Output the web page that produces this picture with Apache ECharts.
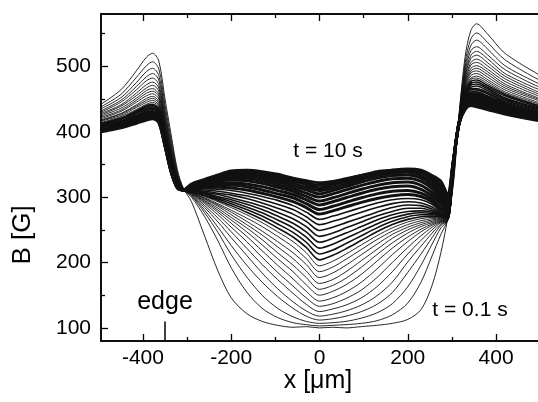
<!DOCTYPE html>
<html>
<head>
<meta charset="utf-8">
<script src="https://cdn.jsdelivr.net/npm/echarts@6/dist/echarts.min.js"></script>
<style>
html,body{margin:0;padding:0;background:#fff;}
#chart{width:538px;height:402px;}
</style>
</head>
<body>
<div id="chart"></div>
<script>
// x positions (µm) of the sampled points of every profile
const xLeft  = [-495, -450, -415, -392, -378, -364, -350, -336, -322, -308];
const xMid   = [-290, -260, -230, -200, -165, -130, -95, -60, -30, 0, 30, 60, 95, 130, 165, 200, 230, 255, 275];
const xRight = [290, 303, 316, 330, 343, 356, 380, 420, 495];

// B [G] profiles, from t = 0.1 s (first row) to t = 10 s (last row)
const leftEdge = [
  [442, 464, 493, 514, 520, 508, 450, 395, 342, 313],
  [438, 457, 483, 501, 507, 496, 441, 388, 338, 312],
  [435, 452, 475, 492, 497, 486, 433, 382, 336, 312],
  [432, 448, 469, 484, 489, 479, 428, 377, 333, 312],
  [430, 445, 464, 478, 482, 472, 423, 373, 331, 312],
  [428, 441, 459, 472, 476, 467, 418, 370, 330, 312],
  [426, 439, 455, 467, 471, 462, 415, 367, 328, 312],
  [424, 436, 451, 463, 466, 457, 411, 364, 327, 312],
  [422, 433, 448, 459, 462, 454, 408, 362, 326, 312],
  [420, 431, 445, 455, 458, 450, 405, 360, 325, 312],
  [418, 428, 441, 451, 454, 446, 402, 357, 324, 312],
  [417, 427, 439, 448, 451, 443, 400, 356, 323, 312],
  [416, 425, 437, 445, 448, 440, 398, 354, 322, 312],
  [414, 423, 434, 442, 445, 438, 396, 352, 321, 311],
  [413, 421, 432, 440, 442, 435, 394, 350, 320, 311],
  [412, 420, 430, 438, 440, 433, 392, 349, 320, 311],
  [411, 419, 429, 436, 438, 431, 391, 348, 319, 311],
  [410, 417, 427, 434, 436, 429, 390, 347, 318, 311],
  [409, 416, 425, 432, 434, 427, 388, 346, 318, 311],
  [408, 415, 424, 430, 432, 425, 387, 345, 317, 311],
  [407, 414, 423, 429, 431, 424, 386, 344, 317, 311],
  [406, 413, 422, 428, 430, 423, 385, 344, 317, 311],
  [405, 412, 421, 427, 429, 422, 384, 343, 317, 311],
  [404, 411, 420, 426, 428, 421, 384, 343, 316, 311],
  [404, 410, 419, 425, 427, 420, 383, 342, 316, 311],
  [403, 409, 418, 424, 426, 420, 382, 341, 316, 311],
  [403, 409, 417, 423, 425, 419, 382, 341, 315, 311],
  [402, 408, 416, 422, 424, 418, 381, 340, 315, 311],
  [402, 408, 416, 421, 423, 417, 380, 340, 315, 311],
  [401, 407, 415, 420, 422, 416, 379, 339, 315, 311],
  [401, 407, 414, 419, 421, 415, 379, 339, 314, 311],
  [400, 406, 413, 418, 420, 414, 378, 338, 314, 311]
];
const middle = [
  [293, 240, 187, 146, 122, 110, 104, 101, 102, 100, 101, 100, 102, 104, 107, 113, 128, 165, 215],
  [300, 270, 233, 192, 155, 130, 116, 108, 105, 103, 104, 105, 107, 111, 120, 138, 170, 210, 243],
  [302, 276, 246, 212, 178, 150, 130, 117, 110, 107, 108, 110, 115, 123, 137, 163, 196, 228, 253],
  [303, 280, 254, 226, 196, 170, 148, 130, 118, 112, 114, 118, 125, 136, 154, 185, 213, 238, 257],
  [304, 284, 262, 238, 211, 184, 160, 140, 126, 118, 121, 126, 135, 149, 170, 201, 225, 245, 259],
  [305, 287, 268, 247, 222, 197, 174, 153, 136, 125, 129, 135, 146, 163, 186, 213, 234, 250, 261],
  [306, 290, 273, 254, 232, 208, 185, 164, 146, 133, 137, 145, 158, 177, 200, 223, 241, 254, 262],
  [306, 292, 277, 260, 240, 218, 196, 175, 156, 141, 146, 155, 170, 190, 212, 232, 247, 257, 263],
  [307, 294, 280, 265, 247, 227, 206, 186, 166, 150, 156, 166, 182, 202, 222, 239, 251, 259, 264],
  [307, 295, 283, 269, 253, 235, 215, 196, 177, 159, 165, 176, 193, 212, 230, 245, 255, 261, 265],
  [308, 297, 286, 273, 258, 242, 224, 206, 187, 168, 174, 186, 203, 220, 237, 250, 258, 263, 266],
  [308, 298, 288, 277, 263, 248, 232, 215, 197, 177, 184, 196, 212, 228, 243, 254, 261, 265, 267],
  [308, 299, 290, 280, 268, 255, 240, 224, 206, 186, 193, 205, 220, 235, 248, 258, 264, 267, 268],
  [309, 301, 293, 284, 273, 261, 247, 232, 215, 195, 202, 213, 227, 241, 253, 262, 267, 269, 269],
  [309, 302, 295, 287, 277, 266, 253, 239, 223, 204, 211, 221, 234, 247, 258, 266, 270, 271, 270],
  [309, 303, 297, 290, 281, 271, 259, 246, 231, 213, 219, 229, 241, 253, 263, 270, 273, 273, 271],
  [310, 305, 299, 293, 285, 276, 265, 253, 239, 222, 228, 237, 248, 259, 268, 274, 276, 275, 272],
  [310, 306, 301, 296, 289, 281, 271, 260, 247, 231, 237, 245, 255, 265, 273, 278, 279, 277, 273],
  [311, 307, 304, 299, 293, 286, 277, 267, 255, 240, 245, 253, 262, 271, 278, 283, 283, 279, 274],
  [311, 309, 306, 303, 298, 291, 283, 274, 263, 249, 254, 261, 269, 277, 284, 288, 287, 282, 275],
  [312, 311, 309, 306, 302, 296, 289, 281, 270, 258, 263, 269, 277, 284, 290, 293, 291, 285, 277],
  [313, 313, 312, 310, 306, 301, 295, 287, 277, 266, 271, 277, 284, 291, 296, 298, 296, 289, 279],
  [314, 315, 315, 314, 311, 306, 300, 293, 284, 274, 279, 285, 292, 298, 302, 304, 301, 293, 281],
  [315, 317, 318, 318, 316, 311, 305, 299, 290, 281, 286, 292, 299, 305, 309, 310, 306, 297, 284],
  [316, 319, 321, 322, 320, 316, 310, 304, 296, 288, 293, 299, 306, 312, 316, 317, 312, 302, 290],
  [316, 321, 324, 326, 325, 321, 315, 309, 301, 294, 299, 305, 312, 318, 322, 323, 318, 307, 294],
  [317, 322, 327, 329, 329, 325, 319, 313, 306, 300, 305, 311, 318, 324, 328, 329, 324, 313, 298],
  [317, 323, 329, 332, 332, 329, 323, 317, 311, 305, 310, 316, 323, 329, 333, 334, 329, 318, 302],
  [318, 324, 330, 335, 335, 332, 327, 321, 315, 310, 314, 320, 327, 333, 337, 338, 333, 323, 307],
  [318, 325, 331, 337, 338, 335, 330, 325, 319, 314, 318, 324, 330, 336, 339, 340, 337, 327, 312],
  [319, 326, 332, 339, 340, 337, 333, 328, 322, 318, 321, 327, 333, 339, 341, 342, 339, 330, 318],
  [320, 327, 334, 340, 341, 339, 335, 329, 325, 322, 324, 328, 333, 337, 341, 343, 341, 333, 324]
];
const rightEdge = [
  [266, 318, 425, 515, 555, 565, 550, 520, 488],
  [265, 322, 424, 506, 542, 551, 537, 510, 480],
  [264, 325, 422, 499, 532, 540, 527, 501, 474],
  [264, 328, 421, 493, 524, 530, 518, 495, 469],
  [264, 330, 421, 488, 517, 523, 512, 489, 465],
  [264, 332, 420, 485, 512, 517, 506, 485, 461],
  [264, 334, 419, 481, 506, 511, 501, 481, 458],
  [264, 335, 419, 477, 502, 506, 496, 477, 455],
  [265, 337, 418, 474, 497, 501, 492, 473, 452],
  [265, 338, 418, 472, 493, 497, 488, 470, 450],
  [265, 339, 418, 469, 490, 493, 484, 467, 448],
  [266, 340, 417, 466, 486, 489, 480, 464, 445],
  [266, 341, 417, 464, 482, 485, 477, 461, 443],
  [267, 342, 416, 462, 480, 482, 474, 459, 441],
  [267, 343, 416, 460, 477, 479, 471, 457, 440],
  [268, 344, 416, 458, 474, 476, 468, 455, 438],
  [268, 345, 415, 456, 471, 473, 466, 452, 436],
  [269, 346, 415, 454, 468, 470, 463, 450, 435],
  [270, 347, 415, 452, 466, 466, 460, 448, 433],
  [271, 347, 415, 451, 464, 464, 458, 446, 432],
  [272, 348, 414, 449, 461, 461, 455, 444, 430],
  [273, 349, 414, 448, 459, 459, 453, 443, 429],
  [275, 349, 414, 446, 457, 457, 452, 441, 428],
  [277, 350, 414, 445, 456, 455, 450, 440, 427],
  [280, 351, 414, 444, 454, 453, 448, 438, 426],
  [283, 351, 413, 442, 452, 451, 446, 437, 424],
  [286, 352, 413, 441, 450, 449, 444, 435, 423],
  [289, 352, 413, 440, 448, 447, 442, 434, 422],
  [292, 353, 413, 439, 446, 445, 440, 432, 421],
  [296, 354, 413, 437, 445, 443, 439, 431, 420],
  [300, 354, 412, 436, 443, 441, 437, 429, 419],
  [304, 355, 412, 434, 440, 438, 434, 427, 417]
];

// axis ticks / labels
const xMajorTicks = [-400, -200, 0, 200, 400];
const xMinorTicks = [-300, -100, 100, 300];
const yMajorTicks = [100, 200, 300, 400, 500];
const yMinorTicks = [150, 250, 350, 450, 550];

// "edge" marker
const edgeX = -350;
const edgeFrom = 110;
const edgeTo = 81;

const FONT = "'Liberation Sans', Arial, Helvetica, sans-serif";
const X_ALL = xLeft.concat(xMid, xRight);

const series = leftEdge.map(function (row, k) {
  const ys = row.concat(middle[k], rightEdge[k]);
  const w = k < 14 ? 0.9 : (k < 22 ? 1.6 : 3.0);
  return {
    type: 'line',
    xAxisIndex: 0,
    yAxisIndex: 0,
    data: X_ALL.map(function (x, i) { return [x, ys[i]]; }),
    showSymbol: false,
    symbol: 'none',
    smooth: 0.3,
    lineStyle: { color: '#111', width: w },
    silent: true,
    z: 2
  };
});
series.push({
  type: 'line',
  xAxisIndex: 0,
  yAxisIndex: 0,
  data: [],
  silent: true,
  markLine: {
    silent: true,
    symbol: ['none', 'arrow'],
    symbolSize: [0, 5],
    label: { show: false },
    lineStyle: { color: '#000', width: 1.5, type: 'solid' },
    data: [[{ coord: [edgeX, edgeFrom] }, { coord: [edgeX, edgeTo] }]]
  }
});

function xAxisDef(pos, ticks, len, labels) {
  return {
    type: 'value', position: pos, min: -495, max: 495,
    axisLine: { show: true, onZero: false, lineStyle: { color: '#000', width: 1.5 } },
    axisTick: { show: true, inside: true, length: len, customValues: ticks, lineStyle: { color: '#000', width: 1.3 } },
    axisLabel: labels ? { show: true, customValues: xMajorTicks, margin: 7, color: '#000', fontSize: 21, fontFamily: FONT } : { show: false },
    splitLine: { show: false }
  };
}
function yAxisDef(ticks, len, labels) {
  return {
    type: 'value', position: 'left', min: 80, max: 580,
    axisLine: { show: true, onZero: false, lineStyle: { color: '#000', width: 1.5 } },
    axisTick: { show: true, inside: true, length: len, customValues: ticks, lineStyle: { color: '#000', width: 1.3 } },
    axisLabel: labels ? { show: true, customValues: yMajorTicks, margin: 10, color: '#000', fontSize: 21, fontFamily: FONT } : { show: false },
    splitLine: { show: false }
  };
}

const chart = echarts.init(document.getElementById('chart'), null, { renderer: 'canvas' });
chart.setOption({
  animation: false,
  backgroundColor: '#fff',
  grid: { left: 101, top: 14, right: -14, bottom: 61, containLabel: false },
  xAxis: [
    xAxisDef('bottom', xMajorTicks, 7, true),
    xAxisDef('bottom', xMinorTicks, 4, false),
    xAxisDef('top', xMajorTicks, 7, false),
    xAxisDef('top', xMinorTicks, 4, false)
  ],
  yAxis: [
    yAxisDef(yMajorTicks, 7, true),
    yAxisDef(yMinorTicks, 4, false)
  ],
  series: series,
  graphic: [
    { type: 'text', x: 23, y: 235, rotation: Math.PI / 2,
      style: { text: 'B [G]', font: '26px ' + FONT, fill: '#000', textAlign: 'center', textVerticalAlign: 'middle' } },
    { type: 'text', x: 318, y: 381,
      style: { text: 'x [\u03bcm]', font: '25px ' + FONT, fill: '#000', textAlign: 'center', textVerticalAlign: 'middle' } },
    { type: 'text', x: 328, y: 151,
      style: { text: 't = 10 s', font: '21px ' + FONT, fill: '#000', textAlign: 'center', textVerticalAlign: 'middle' } },
    { type: 'text', x: 470, y: 310,
      style: { text: 't = 0.1 s', font: '21px ' + FONT, fill: '#000', textAlign: 'center', textVerticalAlign: 'middle' } },
    { type: 'text', x: 165, y: 302,
      style: { text: 'edge', font: '25px ' + FONT, fill: '#000', textAlign: 'center', textVerticalAlign: 'middle' } }
  ]
});
</script>
</body>
</html>
